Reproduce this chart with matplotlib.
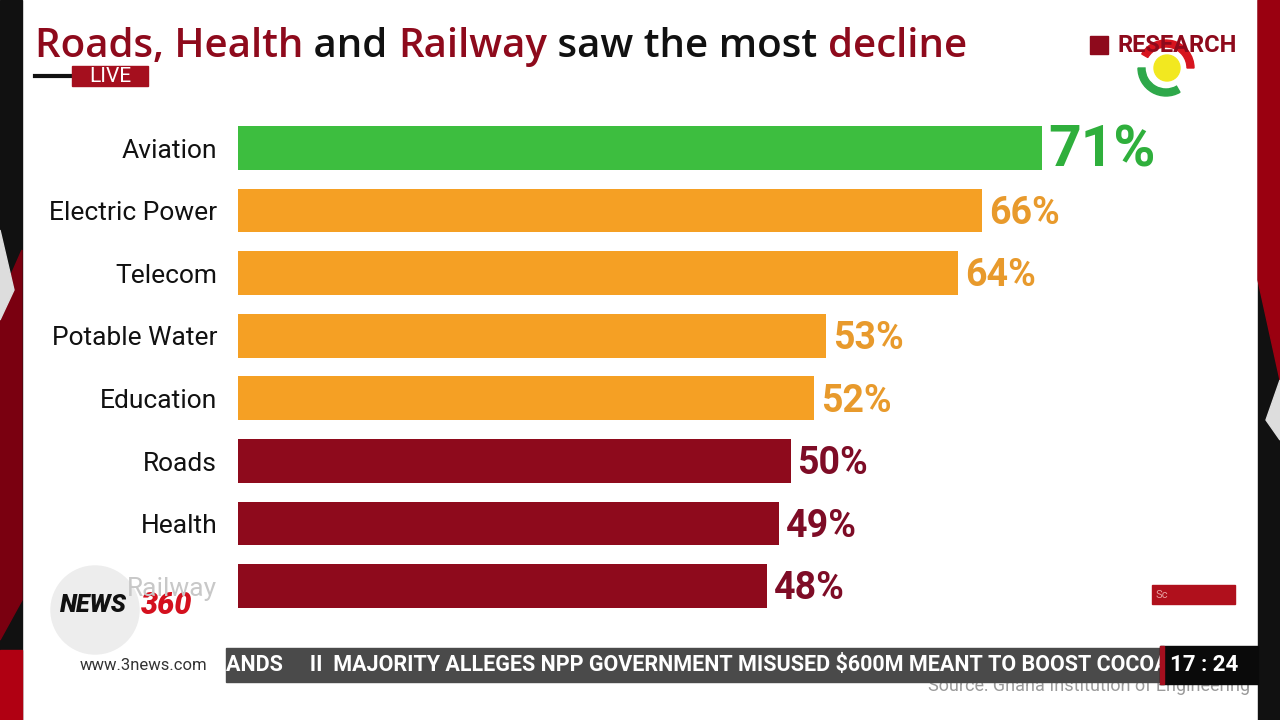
import matplotlib
matplotlib.use("Agg")
import matplotlib.pyplot as plt
from matplotlib.patches import Rectangle, Circle, Wedge, Polygon

# ---- data ----
categories = ["Aviation", "Electric Power", "Telecom", "Potable Water",
              "Education", "Roads", "Health", "Railway"]
values = [71, 66, 64, 53, 52, 50, 49, 48]
bar_colors = ["#3DBE3F", "#F5A024", "#F5A024", "#F5A024", "#F5A024",
              "#8E0A1C", "#8E0A1C", "#8E0A1C"]
label_colors = ["#2FAF3C", "#E89A2C", "#E89A2C", "#E89A2C", "#E89A2C",
                "#7E0C26", "#7E0C26", "#7E0C26"]
title_parts = [("Roads, Health", "#8E0A1C"), (" and ", "#111111"),
               ("Railway", "#8E0A1C"), (" saw the most ", "#111111"),
               ("decline", "#8E0A1C")]
ticker_text = "ANDS     II  MAJORITY ALLEGES NPP GOVERNMENT MISUSED $600M MEANT TO BOOST COCOA"
clock_text = "17 : 24"
source_text = "Source: Ghana Institution of Engineering"

W, H = 1280, 720
fig = plt.figure(figsize=(12.8, 7.2), dpi=100)
fig.patch.set_facecolor("white")

# overlay axes in pixel coordinates
ov = fig.add_axes([0, 0, 1, 1])
ov.set_xlim(0, W)
ov.set_ylim(H, 0)
ov.axis("off")

# side frame strips (TV background)
ov.add_patch(Rectangle((0, 0), 22, H, color="#111111", zorder=1))
ov.add_patch(Polygon([(0, 300), (22, 250), (22, 600), (0, 640)], color="#7A0010", zorder=2))
ov.add_patch(Polygon([(0, 230), (14, 290), (0, 320)], color="#DDDDDD", zorder=2))
ov.add_patch(Rectangle((0, 650), 22, 70, color="#B00012", zorder=2))
ov.add_patch(Rectangle((1258, 0), 22, H, color="#111111", zorder=1))
ov.add_patch(Polygon([(1258, 0), (1280, 0), (1280, 380), (1258, 280)], color="#9A0010", zorder=2))
ov.add_patch(Polygon([(1266, 420), (1280, 380), (1280, 440)], color="#DDDDDD", zorder=2))

# title
x = 35
renderer = fig.canvas.get_renderer()
for txt, col in title_parts:
    t = ov.text(x, 47, txt, color=col, fontsize=29, fontweight="semibold",
                family="Open Sans", va="center", ha="left", zorder=5)
    bb = t.get_window_extent(renderer=renderer)
    x += bb.width

# LIVE tag
ov.plot([35, 72], [76, 76], color="#111111", lw=3, zorder=5)
ov.add_patch(Rectangle((72, 66), 76, 20, color="#A50F1E", zorder=5))
ov.text(110, 76, "LIVE", color="white", fontsize=15, family="Roboto",
        ha="center", va="center", zorder=6)

# RESEARCH logo
ov.text(1237, 45, "RESEARCH", color="#8E0A1C", fontsize=17, fontweight="bold",
        family="Roboto", ha="right", va="center", zorder=5)
ov.add_patch(Rectangle((1090, 36), 18, 18, color="#8E0A1C", zorder=5))
ov.add_patch(Wedge((1166, 68), 28, -150, 0, width=7, color="#D7141E", zorder=4))
ov.add_patch(Wedge((1166, 68), 28, 60, 180, width=7, color="#2EA84A", zorder=4))
ov.add_patch(Circle((1167, 68), 13, color="#F2E820", zorder=6))

# chart axes
scale_px = 11.96
x0 = 3.8
ax_left, ax_w = 238, 1000
ax = fig.add_axes([ax_left / W, 1 - 617.3 / H, ax_w / W, (617.3 - 116.7) / H])
ax.set_xlim(x0, x0 + ax_w / scale_px)
ax.set_ylim(len(categories) - 0.5, -0.5)
ax.patch.set_alpha(0)
ypos = list(range(len(categories)))
ax.barh(ypos, values, left=0, height=0.70, color=bar_colors, zorder=3)
for s in ax.spines.values():
    s.set_visible(False)
ax.set_xticks([])
ax.set_yticks([])

for i, (cat, v) in enumerate(zip(categories, values)):
    col = "#111111" if cat != "Railway" else "#C8C8C8"
    ax.annotate(cat, xy=(x0, i), xytext=(-15, -2), textcoords="offset points",
                ha="right", va="center", fontsize=19, family="Roboto",
                color=col, annotation_clip=False)
    big = (i == 0)
    ax.annotate(f"{v}%", xy=(v, i), xytext=(5, -2), textcoords="offset points",
                ha="left", va="center", fontsize=41 if big else 27,
                fontweight="bold", family="Roboto", color=label_colors[i],
                annotation_clip=False)

# NEWS360 logo
ov.add_patch(Circle((95, 610), 44, color="#EDEDED", zorder=7))
ov.text(60, 605, "NEWS", color="#111111", fontsize=18, fontweight="heavy",
        style="italic", family="Roboto", ha="left", va="center", zorder=8)
ov.text(141, 605, "360", color="#D4101E", fontsize=22, fontweight="heavy",
        style="italic", family="Roboto", ha="left", va="center", zorder=8)

# small red box
ov.add_patch(Rectangle((1152, 585), 83, 19, color="#B0101C", zorder=5))
ov.text(1156, 595, "Sc", color="#E8A0A0", fontsize=8, family="Roboto",
        va="center", ha="left", zorder=6)

# source (partially hidden behind the ticker)
ov.text(1250, 686, source_text, color="#9A9A9A", fontsize=13, family="Roboto",
        ha="right", va="center", zorder=4)

# ticker
tick_rect = Rectangle((226, 648), 934, 34, color="#4A4A4A", zorder=6)
ov.add_patch(tick_rect)
tt = ov.text(226, 665, ticker_text, color="white", fontsize=15.5, fontweight="bold",
             family="Roboto", ha="left", va="center", zorder=7)
tt.set_clip_path(tick_rect)
ov.add_patch(Rectangle((1160, 646), 98, 38, color="#0A0A0A", zorder=8))
ov.add_patch(Rectangle((1160, 646), 4, 38, color="#A50F1E", zorder=9))
ov.text(1204, 665, clock_text, color="white", fontsize=16, fontweight="bold",
        family="Roboto", ha="center", va="center", zorder=9)
ov.text(143, 665, "www.3news.com", color="#333333", fontsize=12,
        family="Roboto", ha="center", va="center", zorder=7)

fig.savefig("out.png", dpi=100, facecolor=fig.get_facecolor())
